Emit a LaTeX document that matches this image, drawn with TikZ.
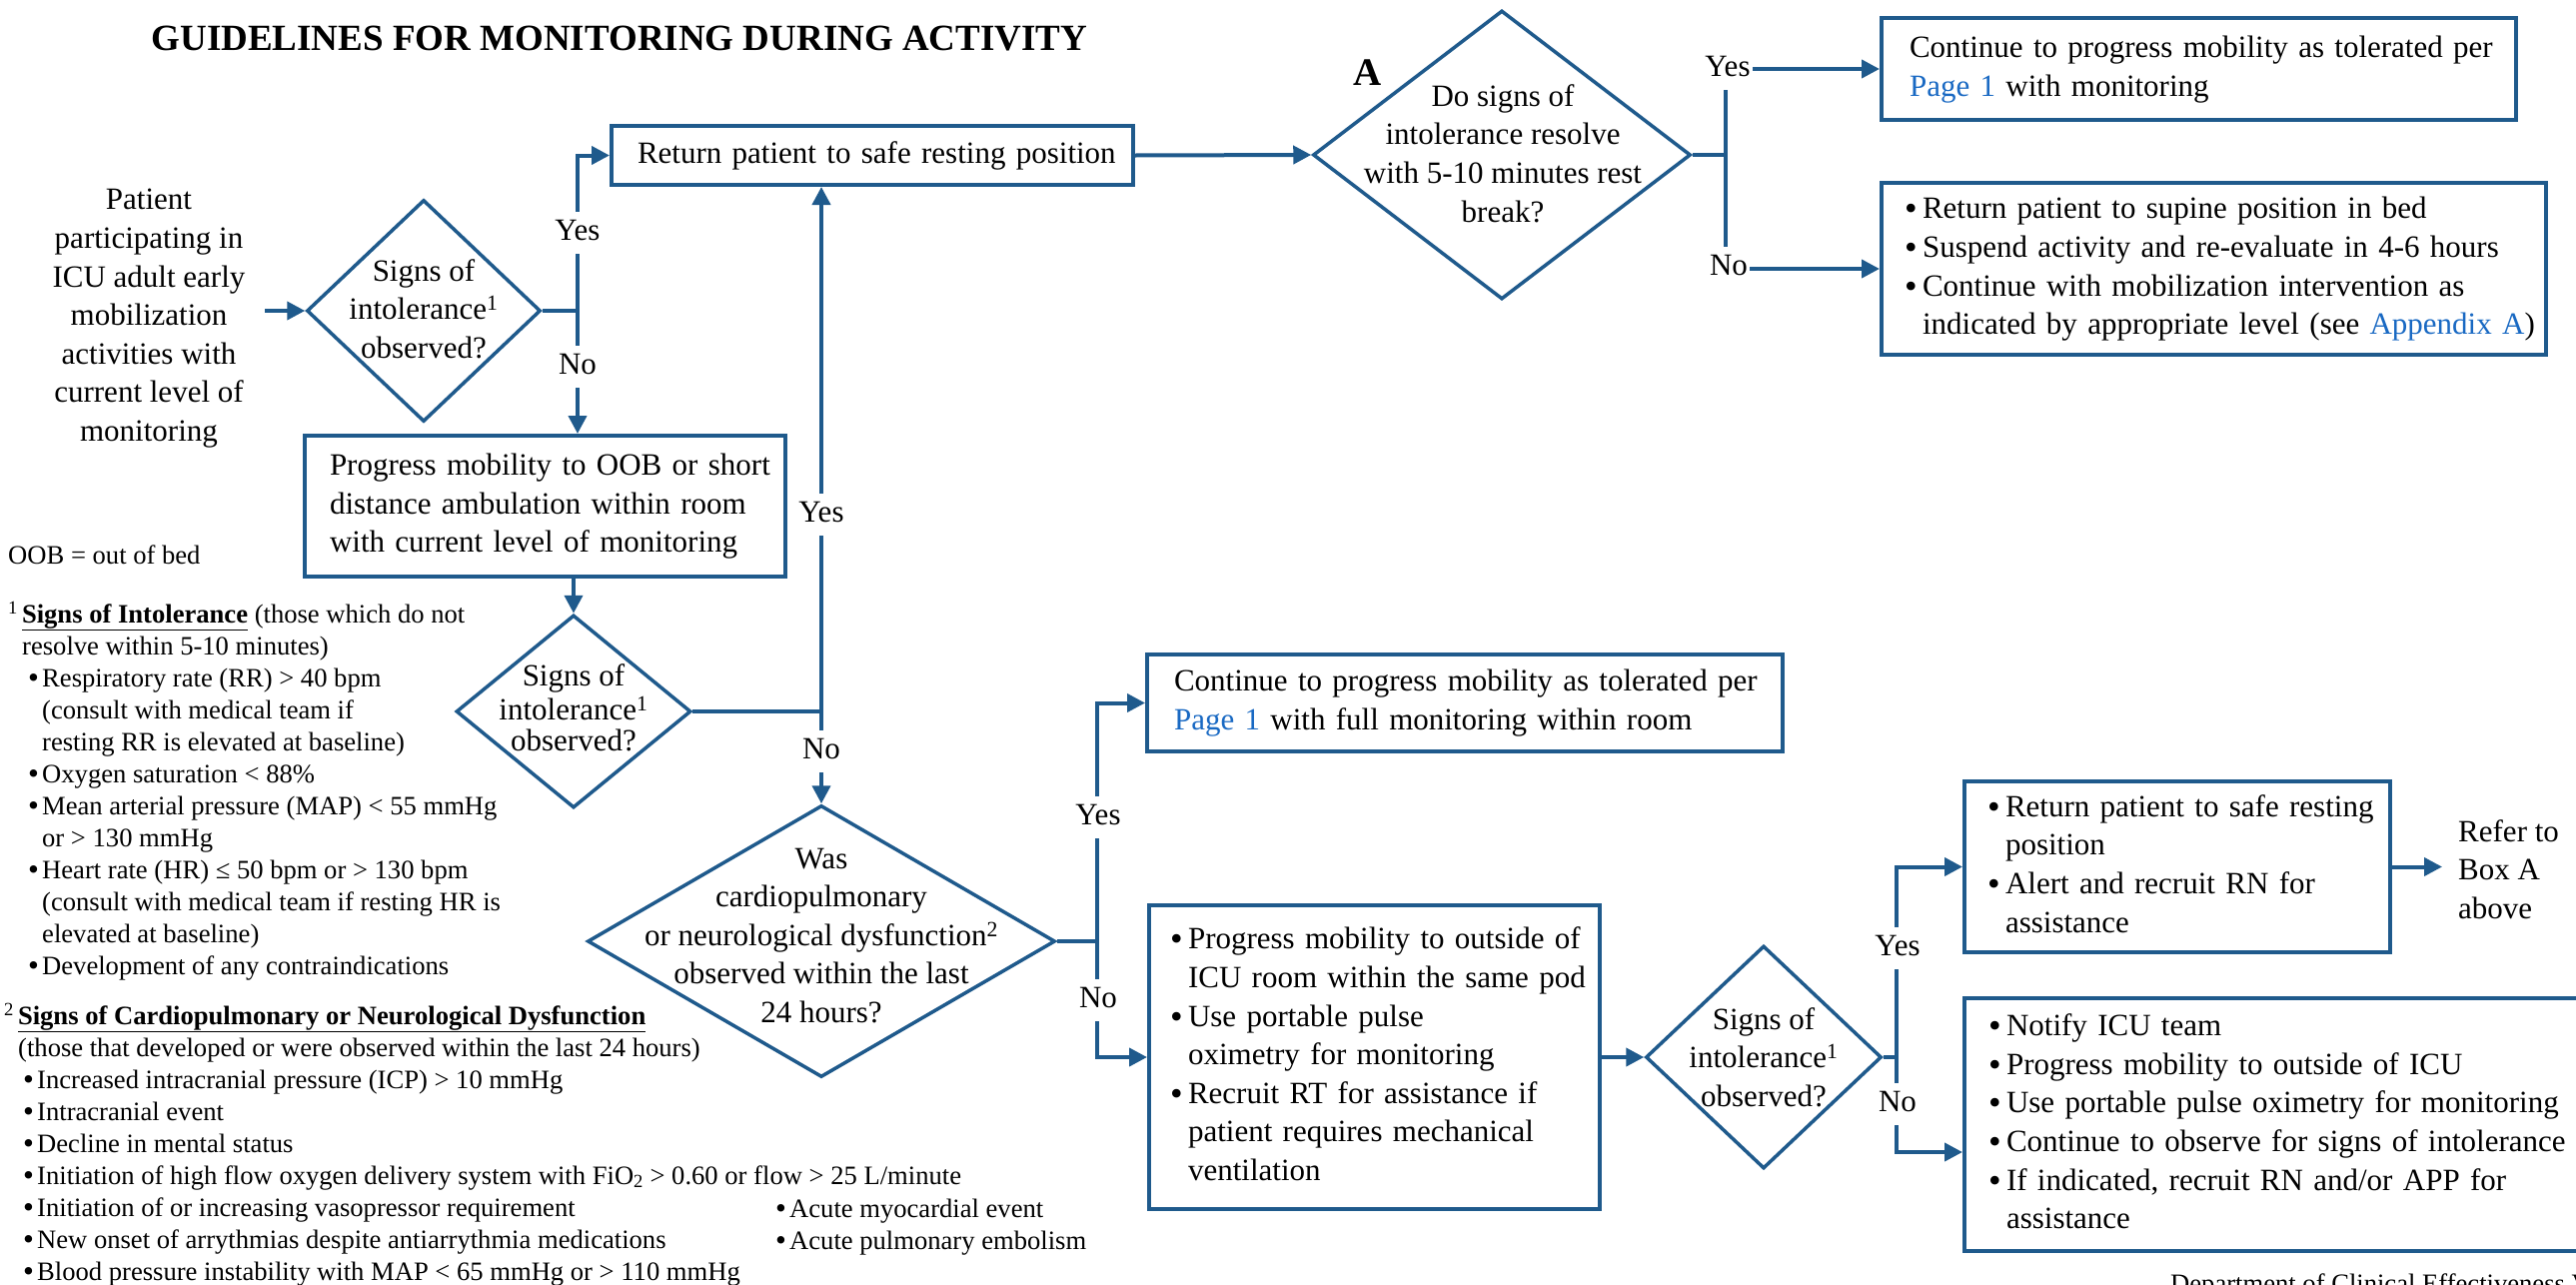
\documentclass[tikz,border=0pt]{standalone}
\usepackage{fontspec}
\setmainfont{Liberation Serif}
\usetikzlibrary{arrows.meta,shapes.geometric}
\definecolor{ln}{RGB}{31,90,140}
\definecolor{lk}{RGB}{25,105,195}
\newcommand\bodyfs{\fontsize{31}{38.6}\selectfont}
\newcommand\notefs{\fontsize{26.6}{32}\selectfont}
\newcommand\bigbul{\raisebox{-2pt}{\fontsize{36}{36}\selectfont\textbullet}}
\newcommand\notebul{\raisebox{-1.5pt}{\fontsize{31}{31}\selectfont\textbullet}}
\newcommand\bli[1]{\mbox{\makebox[18pt][l]{\bigbul}#1}}
\newcommand\cli[1]{\mbox{\hspace*{18pt}#1}}
\newcommand\nbul[1]{\hspace*{#1pt}\makebox[14pt][l]{\notebul}}
\newcommand\plink[1]{\textcolor{lk}{#1}}
\begin{document}
\begin{tikzpicture}[x=1pt,y=-1pt,
  box/.style={draw=ln,line width=4pt,rectangle,inner ysep=0pt,font=\bodyfs,align=left},
  dia/.style={draw=ln,line width=3.5pt,diamond,inner sep=0pt},
  txt/.style={inner sep=0pt,font=\bodyfs,align=center},
  conn/.style={draw=ln,line width=4pt,-{Triangle[length=18pt,width=18pt]}},
  lbl/.style={fill=white,inner sep=2pt,font=\bodyfs},
  note/.style={inner sep=0pt,font=\notefs,align=left}]
\useasboundingbox (0,0) rectangle (2578,1285);
\fill[white] (0,0) rectangle (2578,1285);
\clip (0,0) rectangle (2578,1285);

% title and marks
\node[anchor=base,inner sep=0pt,font={\fontsize{37}{44}\selectfont\bfseries}] (title) at (620,50) {GUIDELINES FOR MONITORING DURING ACTIVITY};
\node[anchor=base,inner sep=0pt,font={\fontsize{39}{46}\selectfont\bfseries}] (markA) at (1369,85) {A};

% start text
\node[txt] (pt) at (149,318) {\strut Patient\\participating in\\ICU adult early\\mobilization\\activities with\\current level of\\monitoring\strut};
\coordinate (in1) at (265,311);

% boxes
\node[box,align=center,text width=470pt,inner xsep=26pt,minimum height=59pt] (ret) at (873,155.5)
  {\strut\mbox{Return patient to safe resting position}\strut};
\node[box,text width=431pt,inner xsep=25pt,minimum height=141pt] (prog) at (545.5,506.5)
  {\strut\mbox{Progress mobility to OOB or short}\\\mbox{distance ambulation within room}\\\mbox{with current level of monitoring}\strut};
\node[box,text width=579pt,inner xsep=28pt,minimum height=102pt] (b1) at (2200.5,69)
  {\strut\mbox{Continue to progress mobility as tolerated per}\\\mbox{\plink{Page 1} with monitoring}\strut};
\node[box,text width=619pt,inner xsep=23pt,minimum height=172pt] (b2) at (2215.5,269)
  {\strut\bli{Return patient to supine position in bed}\\\bli{Suspend activity and re-evaluate in 4-6 hours}\\\bli{Continue with mobilization intervention as}\\\cli{indicated by appropriate level (see \plink{Appendix A})}\strut};
\node[box,text width=582pt,inner xsep=27pt,minimum height=97pt] (fm) at (1466,703.5)
  {\strut\mbox{Continue to progress mobility as tolerated per}\\\mbox{\plink{Page 1} with full monitoring within room}\strut};
\node[box,text width=409pt,inner xsep=21pt,minimum height=304pt] (po) at (1375.5,1058)
  {\strut\bli{Progress mobility to outside of}\\\cli{ICU room within the same pod}\\\bli{Use portable pulse}\\\cli{oximetry for monitoring}\\\bli{Recruit RT for assistance if}\\\cli{patient requires mechanical}\\\cli{ventilation}\strut};
\node[box,text width=380pt,inner xsep=23pt,minimum height=171pt] (rs) at (2179,867.5)
  {\strut\bli{Return patient to safe resting}\\\cli{position}\\\bli{Alert and recruit RN for}\\\cli{assistance}\strut};
\node[box,text width=586pt,inner xsep=24pt,minimum height=253pt] (nt) at (2283,1125.5)
  {\strut\bli{Notify ICU team}\\\bli{Progress mobility to outside of ICU}\\\bli{Use portable pulse oximetry for monitoring}\\\bli{Continue to observe for signs of intolerance}\\\bli{If indicated, recruit RN and/or APP for}\\\cli{assistance}\strut};
\node[anchor=west,inner sep=0pt,font=\bodyfs,align=left] (ref) at (2460,873) {\strut Refer to\\Box A\\above\strut};
\coordinate (rtip) at (2444,867.5);

% diamonds
\node[dia,minimum width=234pt,minimum height=222pt] (d1) at (424,311) {};
\node[dia,minimum width=235pt,minimum height=193pt] (d2) at (574,712) {};
\node[dia,minimum width=468pt,minimum height=272pt] (d3) at (822,942) {};
\node[dia,minimum width=236pt,minimum height=223pt] (d4) at (1765,1058) {};
\node[dia,minimum width=378pt,minimum height=289pt] (dA) at (1503,155) {};
\node[txt] (t1) at (424,312) {\strut Signs of\\intolerance\textsuperscript{1}\\observed?\strut};
\node[txt,font={\fontsize{31}{31.5}\selectfont}] (t2) at (574,713) {\strut Signs of\\intolerance\textsuperscript{1}\\observed?\strut};
\node[txt] (t3) at (822,938.5) {\strut Was\\cardiopulmonary\\or neurological dysfunction\textsuperscript{2}\\observed within the last\\24 hours?\strut};
\node[txt] (t4) at (1765,1061) {\strut Signs of\\intolerance\textsuperscript{1}\\observed?\strut};
\node[txt] (tA) at (1504,156.5) {\strut Do signs of\\intolerance resolve\\with 5-10 minutes rest\\break?\strut};

% junctions
\coordinate (j1) at (578,311);
\coordinate (j2) at (822,712);
\coordinate (jA) at (1727,155);
\coordinate (j3) at (1098,942);
\coordinate (j4) at (1898,1058);

% connectors
\draw[conn] (in1) -- (d1.west);
\draw[conn] (d1.east) -- (j1) |- (ret.west);
\draw[conn] (j1) -- (j1 |- prog.north);
\draw[conn] (prog.south -| d2.north) -- (d2.north);
\draw[conn] (d2.east) -- (j2) -- (j2 |- ret.south);
\draw[conn] (j2) -- (d3.north);
\draw[conn] (ret.east) -- (dA.west);
\draw[conn] (dA.east) -- (jA) |- (b1.west);
\draw[conn] (jA) |- (b2.west);
\draw[conn] (d3.east) -- (j3) |- (fm.west);
\draw[conn] (j3) |- (po.west);
\draw[conn] (po.east) -- (d4.west);
\draw[conn] (d4.east) -- (j4) |- (rs.west);
\draw[conn] (j4) |- ([yshift=-27.5pt]nt.west);
\draw[conn] (rs.east) -- (rtip);

% labels
\node[lbl] (y1) at (578,233) {\strut Yes};
\node[lbl] (n1) at (578,367) {\strut No};
\node[lbl] (y2) at (822,515) {\strut Yes};
\node[lbl] (n2) at (822,752) {\strut No};
\node[lbl] (yA) at (1729,69) {\strut Yes};
\node[lbl] (nA) at (1730,268) {\strut No};
\node[lbl] (y3) at (1099,818) {\strut Yes};
\node[lbl] (n3) at (1099,1001) {\strut No};
\node[lbl] (y4) at (1899,949) {\strut Yes};
\node[lbl] (n4) at (1899,1105) {\strut No};

% notes
\node[note,anchor=base west] (oob) at (8,564) {OOB = out of bed};
\node[note,anchor=north west] (nsi) at (8,600.6) {\strut\textsuperscript{1}\hspace{4pt}\underline{\textbf{Signs of Intolerance}} (those which do not\\
\hspace*{14pt}resolve within 5-10 minutes)\\
\nbul{20}Respiratory rate (RR) > 40 bpm\\
\hspace*{34pt}(consult with medical team if\\
\hspace*{34pt}resting RR is elevated at baseline)\\
\nbul{20}Oxygen saturation < 88\%\\
\nbul{20}Mean arterial pressure (MAP) < 55 mmHg\\
\hspace*{34pt}or > 130 mmHg\\
\nbul{20}Heart rate (HR) ≤ 50 bpm or > 130 bpm\\
\hspace*{34pt}(consult with medical team if resting HR is\\
\hspace*{34pt}elevated at baseline)\\
\nbul{20}Development of any contraindications\strut};
\node[note,anchor=north west] (ncd) at (4,1002.6) {\strut\textsuperscript{2}\hspace{4pt}\underline{\textbf{Signs of Cardiopulmonary or Neurological Dysfunction}}\\
\hspace*{14pt}(those that developed or were observed within the last 24 hours)\\
\nbul{19}Increased intracranial pressure (ICP) > 10 mmHg\\
\nbul{19}Intracranial event\\
\nbul{19}Decline in mental status\\
\nbul{19}Initiation of high flow oxygen delivery system with FiO\textsubscript{2} > 0.60 or flow > 25 L/minute\\
\nbul{19}Initiation of or increasing vasopressor requirement\\
\nbul{19}New onset of arrythmias despite antiarrythmia medications\\
\nbul{19}Blood pressure instability with MAP < 65 mmHg or > 110 mmHg\strut};
\node[note,anchor=north west] (ncd2) at (776,1195.6) {\strut\nbul{0}Acute myocardial event\\
\nbul{0}Acute pulmonary embolism\strut};
\node[note,anchor=base west] (dept) at (2172,1293) {Department of Clinical Effectiveness V};
\end{tikzpicture}
\end{document}
